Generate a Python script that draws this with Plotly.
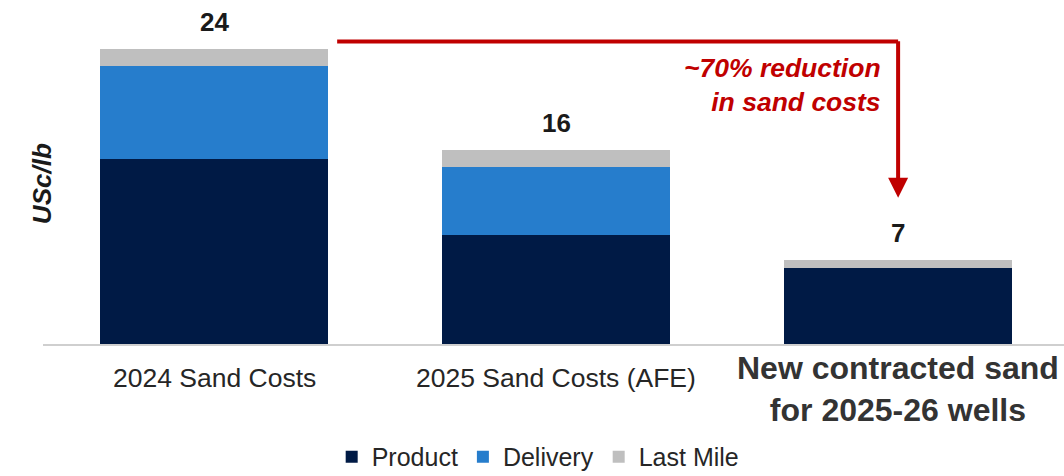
import plotly.graph_objects as go

categories = ["2024 Sand Costs", "2025 Sand Costs (AFE)", "New contracted sand<br>for 2025-26 wells"]
product = [15.07, 8.89, 6.15]
delivery = [7.53, 5.5, 0.0]
last_mile = [1.4, 1.38, 0.68]
total_labels = ["24", "16", "7"]

colors = {"Product": "#001A45", "Delivery": "#267DCC", "Last Mile": "#BFBFBF"}
FONT = "Liberation Sans, Arial, sans-serif"

xs = [0, 1, 2]
fig = go.Figure()
for name, vals in [("Product", product), ("Delivery", delivery), ("Last Mile", last_mile)]:
    fig.add_trace(go.Bar(x=xs, y=vals, name=name, marker=dict(color=colors[name], line=dict(width=0)),
                         width=0.667))

totals = [p + d + l for p, d, l in zip(product, delivery, last_mile)]
for x, t, lab in zip(xs, totals, total_labels):
    fig.add_annotation(x=x, y=t, text=f"<b>{lab}</b>", showarrow=False, yanchor="bottom", yshift=10,
                       font=dict(family=FONT, size=26, color="#1A1A1A"))

# category labels
fig.add_annotation(x=0, y=0, text=categories[0], showarrow=False, yanchor="top", yshift=-17,
                   font=dict(family=FONT, size=26.5, color="#262626"))
fig.add_annotation(x=1, y=0, text=categories[1], showarrow=False, yanchor="top", yshift=-17,
                   font=dict(family=FONT, size=26.5, color="#262626"))
fig.add_annotation(x=2, y=0, text="<b>" + categories[2] + "</b>", showarrow=False, yanchor="middle",
                   yshift=-44.5, font=dict(family=FONT, size=32, color="#333333"))

# y axis title
fig.add_annotation(xref="paper", yref="y", x=0, y=13.0, xshift=-18, text="<b><i>USc/lb</i></b>",
                   textangle=-90, showarrow=False, font=dict(family=FONT, size=26, color="#1A1A1A"))

# red arrow
red = "#C00000"
fig.add_shape(type="line", x0=0.36, x1=2.0, y0=24.6, y1=24.6, line=dict(color=red, width=4))
fig.add_annotation(x=2.0, y=11.9, ax=2.0, ay=24.75, xref="x", yref="y", axref="x", ayref="y",
                   text="", showarrow=True, arrowhead=2, arrowsize=1, arrowwidth=4, arrowcolor=red)
fig.add_annotation(x=1.955, y=21.1, xanchor="right", text="<b><i>~70% reduction<br>in sand costs</i></b>",
                   showarrow=False, align="right", font=dict(family=FONT, size=26.5, color=red))

fig.update_layout(
    barmode="stack",
    width=1064, height=476,
    margin=dict(l=43, r=0, t=12, b=132, autoexpand=False),
    paper_bgcolor="white", plot_bgcolor="white",
    showlegend=True,
    legend=dict(orientation="h", x=0.485, xanchor="center", y=-0.34, yanchor="middle",
                font=dict(family=FONT, size=25, color="#262626"), traceorder="normal",
                itemwidth=30, tracegroupgap=0),
    xaxis=dict(range=[-0.5, 2.485], showticklabels=False, showline=True, linecolor="#CFCFCF",
               linewidth=2, showgrid=False, zeroline=False, ticks=""),
    yaxis=dict(range=[0, 27], visible=False, showgrid=False, zeroline=False),
    bargap=0,
)

fig.write_html("out.html", config={"displayModeBar": False},
               post_script="document.body.style.margin='0';document.body.style.overflow='hidden';")
